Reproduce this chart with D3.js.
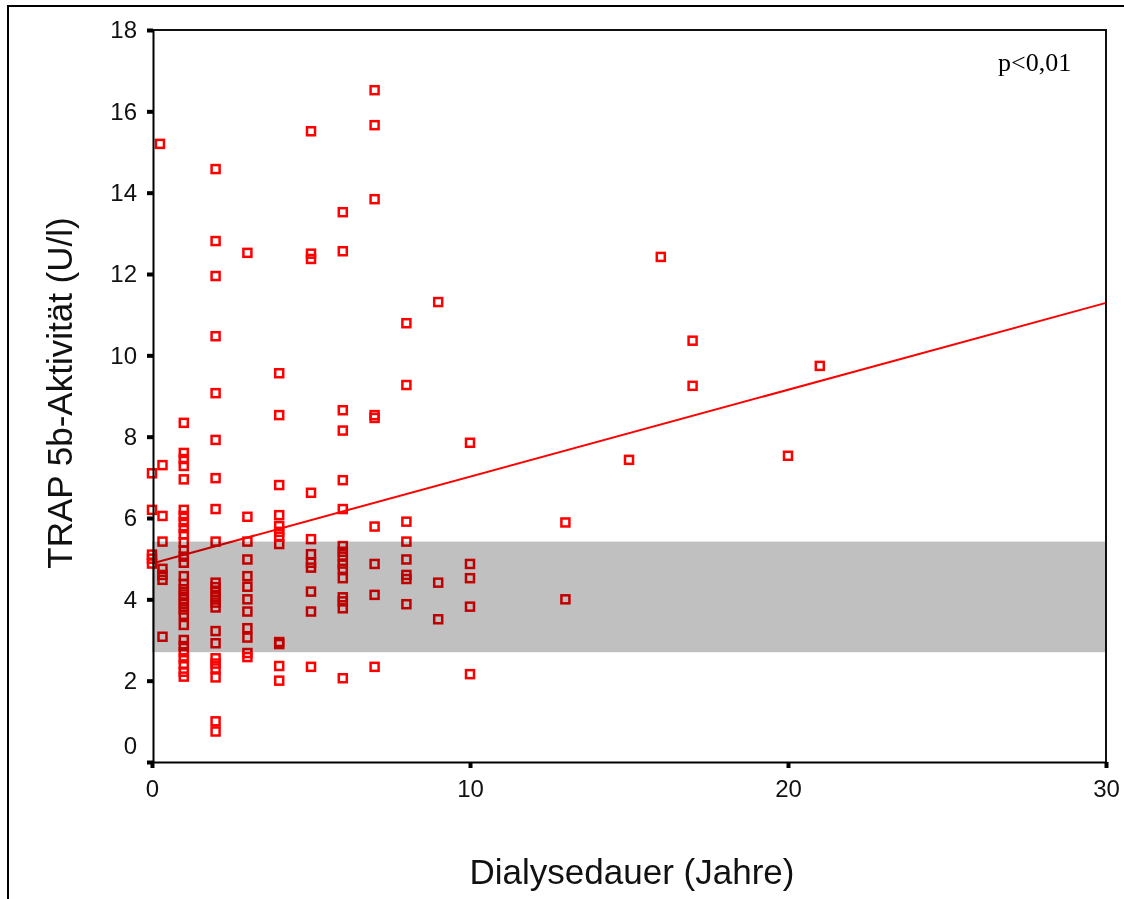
<!DOCTYPE html>
<html>
<head>
<meta charset="utf-8">
<script src="https://cdn.jsdelivr.net/npm/d3@7"></script>
<style>
  body { margin: 0; background: #fff; }
  text { font-family: 'Liberation Sans', Arial, sans-serif; }
</style>
</head>
<body>
<div id="chart-area"></div>
<script>
// Dialysis duration (years) and the TRAP 5b values measured at each duration
const years = [0, 0.25, 0.33, 1, 2, 3, 4, 5, 6, 7, 8, 9, 10, 13, 15, 16, 17, 20, 21]
const trapByYear = [
    [7.1, 6.2, 5.1, 5.0, 4.88],
    [15.2],
    [7.3, 6.05, 5.42, 4.75, 4.6, 4.48, 3.08],
    [8.34, 7.6, 7.45, 7.28, 6.95, 6.2, 6.05, 5.9, 5.75, 5.6, 5.4, 5.2, 5.05, 4.9,
     4.57, 4.38, 4.25, 4.12, 4.0, 3.88, 3.75, 3.62, 3.37, 3.0, 2.85, 2.7, 2.55, 2.4, 2.22, 2.1],
    [14.58, 12.81, 11.95, 10.47, 9.07, 7.92, 6.98, 6.22, 5.42, 4.41, 4.3, 4.18, 4.05, 3.92, 3.8,
     3.22, 2.92, 2.55, 2.42, 2.3, 2.08, 1.0, 0.75],
    [12.52, 6.03, 5.42, 4.98, 4.57, 4.31, 4.0, 3.7, 3.29, 3.06, 2.68, 2.58],
    [9.56, 8.53, 6.81, 6.07, 5.8, 5.66, 5.54, 5.36, 2.95, 2.9, 2.36, 2.0],
    [15.51, 12.5, 12.37, 6.62, 5.48, 5.11, 4.9, 4.78, 4.19, 3.7, 2.34],
    [13.52, 12.56, 8.65, 8.15, 6.93, 6.22, 5.31, 5.17, 5.05, 4.88, 4.75, 4.52, 4.05, 3.95, 3.78, 2.06],
    [16.52, 15.66, 13.84, 8.53, 8.46, 5.79, 4.87, 4.11, 2.34],
    [10.79, 9.27, 5.91, 5.42, 4.98, 4.6, 4.5, 3.88],
    [11.31, 4.41, 3.51],
    [7.85, 4.87, 4.52, 3.82, 2.16],
    [5.89, 4.0],
    [7.43],
    [12.42],
    [10.36, 9.25],
    [7.53],
    [9.74]
]

// regression line end points and normal range band
const fitX = [0, 30]
const fitY = [4.88, 11.29]
const normalRange = [2.7, 5.42]

const xTicks = [0, 10, 20, 30]
const yTicks = [0, 2, 4, 6, 8, 10, 12, 14, 16, 18]
const xTitle = 'Dialysedauer (Jahre)'
const yTitle = 'TRAP 5b-Aktivität (U/l)'
const note = 'p<0,01'

const canvas = { width: 1124, height: 899 }
const plot = { left: 152, right: 1106, top: 30, bottom: 762 }

const points = []
years.forEach((yr, i) => trapByYear[i].forEach(v => points.push({ x: yr, y: v })))

let svg = d3.select('#chart-area')
    .append('svg')
    .attr('width', canvas.width)
    .attr('height', canvas.height)

// outer frame
svg.append('path')
    .attr('d', `M8,${canvas.height} V6 H${canvas.width}`)
    .attr('fill', 'none')
    .attr('stroke', '#000')
    .attr('stroke-width', 2)

let scaleX = d3.scaleLinear()
    .domain([0, 30])
    .range([plot.left, plot.right])

let scaleY = d3.scaleLinear()
    .domain([0, 18])
    .range([plot.bottom, plot.top])

// points
svg.append('g')
    .selectAll('rect')
    .data(points)
    .enter()
    .append('rect')
    .attr('x', d => scaleX(d.x) - 4)
    .attr('y', d => scaleY(d.y) - 4)
    .attr('width', 8)
    .attr('height', 8)
    .attr('fill', 'none')
    .attr('stroke', '#ff0000')
    .attr('stroke-width', 2.5)

// regression line
svg.append('line')
    .attr('x1', scaleX(fitX[0]))
    .attr('y1', scaleY(fitY[0]))
    .attr('x2', scaleX(fitX[1]))
    .attr('y2', scaleY(fitY[1]))
    .attr('stroke', '#ff0000')
    .attr('stroke-width', 2)

// normal range band, multiplied over the marks
svg.append('rect')
    .attr('x', scaleX(0))
    .attr('y', scaleY(normalRange[1]))
    .attr('width', scaleX(30) - scaleX(0))
    .attr('height', scaleY(normalRange[0]) - scaleY(normalRange[1]))
    .attr('fill', '#c0c0c0')
    .style('mix-blend-mode', 'multiply')

// frame top and right
svg.append('path')
    .attr('d', `M${plot.left},${plot.top} H${plot.right} V${plot.bottom}`)
    .attr('fill', 'none')
    .attr('stroke', '#111')
    .attr('stroke-width', 2)

// y-axis
let yAxis = d3.axisLeft(scaleY)
    .tickValues(yTicks)
    .tickSize(6)
    .tickSizeOuter(0)
    .tickPadding(10)
let yg = svg.append('g')
    .attr('transform', `translate(${plot.left + 1},0)`)
    .call(yAxis)
yg.selectAll('.tick text').filter(d => d === 0).attr('dy', '-0.35em')

// x-axis
let xAxis = d3.axisBottom(scaleX)
    .tickValues(xTicks)
    .tickSize(6)
    .tickSizeOuter(0)
    .tickPadding(12)
let xg = svg.append('g')
    .attr('transform', `translate(0,${plot.bottom})`)
    .call(xAxis)

svg.selectAll('.domain').attr('stroke', '#000').attr('stroke-width', 2)
svg.selectAll('.tick line').attr('stroke', '#000').attr('stroke-width', 4)
svg.selectAll('.tick text')
    .attr('fill', '#111')
    .style('font-size', '24px')
    .style('font-family', "'Liberation Sans', Arial, sans-serif")

// titles
svg.append('text')
    .attr('transform', 'translate(72,393) rotate(-90)')
    .attr('text-anchor', 'middle')
    .style('font-size', '35px')
    .attr('fill', '#111')
    .text(yTitle)

svg.append('text')
    .attr('x', 632)
    .attr('y', 884)
    .attr('text-anchor', 'middle')
    .style('font-size', '35px')
    .attr('fill', '#111')
    .text(xTitle)

svg.append('text')
    .attr('x', 998)
    .attr('y', 71)
    .style('font-family', "'Liberation Serif', 'Times New Roman', serif")
    .style('font-size', '26px')
    .text(note)
</script>
</body>
</html>
